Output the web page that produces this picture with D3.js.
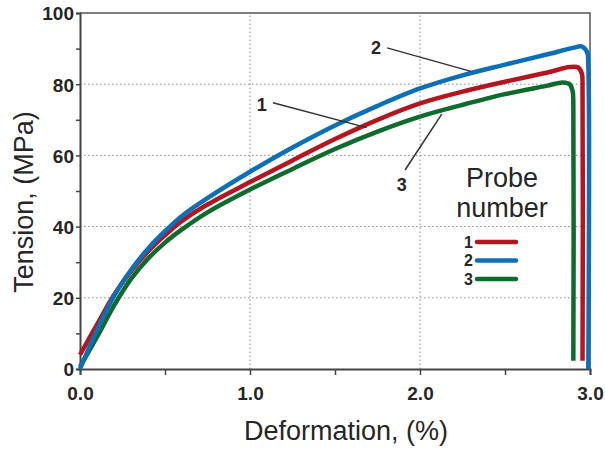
<!DOCTYPE html>
<html>
<head>
<meta charset="utf-8">
<script src="https://cdn.jsdelivr.net/npm/d3@7"></script>
<style>
  body { margin: 0; background: #fff; }
  text { font-family: "Liberation Sans", Arial, sans-serif; fill: #262626; }
</style>
</head>
<body>
<div id="chart"></div>
<script>
"use strict";

// values: [deformation %, tension MPa]
const probe1 = [[0, 4], [0.1, 12.5], [0.2, 20.8], [0.3, 27.5], [0.4, 33], [0.5, 37.6], [0.6, 41.6],
  [0.75, 46.2], [1.0, 52.5], [1.25, 58.6], [1.5, 64.6], [1.75, 70], [2.0, 74.6], [2.25, 77.9],
  [2.5, 80.7], [2.75, 83.3], [2.88, 84.8], [2.93, 84.7], [2.952, 83], [2.956, 79], [2.956, 2.3]];
const probe2 = [[0, 0], [0.1, 11], [0.2, 20.5], [0.3, 27.8], [0.4, 33.8], [0.5, 38.7], [0.6, 43],
  [0.75, 48], [1.0, 55.4], [1.25, 62.2], [1.5, 68.4], [1.75, 73.9], [2.0, 78.8], [2.25, 82.5],
  [2.5, 85.5], [2.75, 88.4], [2.9, 90.2], [2.95, 90.6], [2.983, 89], [2.99, 85], [2.99, 0]];
const probe3 = [[0, 0.6], [0.1, 9], [0.2, 17.8], [0.3, 25.3], [0.4, 31], [0.5, 35.5], [0.6, 39.2],
  [0.75, 44], [1.0, 50.4], [1.25, 56.2], [1.5, 61.8], [1.75, 66.7], [2.0, 70.9], [2.25, 74.2],
  [2.5, 77.2], [2.75, 79.6], [2.84, 80.5], [2.88, 80], [2.898, 78], [2.902, 74], [2.902, 2.3]];

const probeNames = ["1", "2", "3"];
const probeColours = ["#b3161f", "#0d6fb8", "#0e6b2b"];

const xTicks = [0, 1, 2, 3];
const xMinor = [0.5, 1.5, 2.5];
const yTicks = [0, 20, 40, 60, 80, 100];
const yMinor = [10, 30, 50, 70, 90];
const xGrid = [1, 2];
const yGrid = [20, 40, 60, 80];

// leader labels: label position, line start, line end (data coords)
const labels = [
  { name: "1", at: [1.069, 74.2], from: [1.135, 74.8], to: [1.686, 67.8] },
  { name: "2", at: [1.741, 90.4], from: [1.806, 90.2], to: [2.3, 83.6] },
  { name: "3", at: [1.892, 51.7], from: [1.912, 55.9], to: [2.128, 71.6] },
];

const W = 605, H = 450;
const margin = { top: 13, right: 15, bottom: 81, left: 80 };

const svg = d3.select("#chart").append("svg").attr("width", W).attr("height", H);

const x = d3.scaleLinear().domain([0, 3]).range([margin.left, W - margin.right]);
const y = d3.scaleLinear().domain([0, 100]).range([H - margin.bottom, margin.top]);

// grid
svg.append("g").selectAll("line").data(xGrid).join("line")
  .attr("x1", d => x(d)).attr("x2", d => x(d))
  .attr("y1", y(0)).attr("y2", y(100))
  .attr("stroke", "#8a8a8a").attr("stroke-width", 1).attr("stroke-dasharray", "1.5,2.5");
svg.append("g").selectAll("line").data(yGrid).join("line")
  .attr("x1", x(0)).attr("x2", x(3))
  .attr("y1", d => y(d)).attr("y2", d => y(d))
  .attr("stroke", "#8a8a8a").attr("stroke-width", 1).attr("stroke-dasharray", "1.5,2.5");

// frame top/right
svg.append("path")
  .attr("d", `M${x(0)},${y(100)}H${x(3)}V${y(0)}`)
  .attr("fill", "none").attr("stroke", "#555").attr("stroke-width", 1.5);

// axes
svg.append("g").attr("transform", `translate(0,${y(0)})`)
  .call(d3.axisBottom(x).tickValues(xTicks).tickSize(6).tickPadding(12).tickFormat(d3.format(".1f")));
svg.append("g").attr("transform", `translate(0,${y(0)})`)
  .call(d3.axisBottom(x).tickValues(xMinor).tickSize(6).tickFormat(""))
  .call(g => g.select(".domain").remove());
const yAxis = svg.append("g").attr("transform", `translate(${x(0)},0)`)
  .call(d3.axisLeft(y).tickValues(yTicks).tickSize(4).tickPadding(2));
svg.append("g").attr("transform", `translate(${x(0)},0)`)
  .call(d3.axisLeft(y).tickValues(yMinor).tickSize(4).tickFormat(""))
  .call(g => g.select(".domain").remove());

svg.selectAll(".domain").attr("stroke", "#444").attr("stroke-width", 2);
svg.selectAll(".tick line").attr("stroke", "#444").attr("stroke-width", 1.5);
svg.selectAll(".tick text")
  .style("font-size", "19px").style("font-weight", "bold")
  .style("font-family", "Liberation Sans, Arial, sans-serif")
  .attr("fill", "#333");
yAxis.selectAll(".tick text").attr("dy", "0.36em");

// curves
const line = d3.line().x(d => x(d[0])).y(d => y(d[1])).curve(d3.curveCatmullRom.alpha(0.5));
const series = [probe1, probe2, probe3];
const order = [2, 0, 1]; // green, red, then blue on top
order.forEach(i => {
  svg.append("path").datum(series[i])
    .attr("d", line)
    .attr("fill", "none")
    .attr("stroke", probeColours[i])
    .attr("stroke-width", 4.5)
    .attr("stroke-linejoin", "round");
});

// leader lines and labels
labels.forEach(l => {
  svg.append("line")
    .attr("x1", x(l.from[0])).attr("y1", y(l.from[1]))
    .attr("x2", x(l.to[0])).attr("y2", y(l.to[1]))
    .attr("stroke", "#333").attr("stroke-width", 1.5);
  svg.append("text")
    .attr("x", x(l.at[0])).attr("y", y(l.at[1]))
    .attr("text-anchor", "middle").attr("dy", "0.36em")
    .style("font-size", "18px").style("font-weight", "bold")
    .text(l.name);
});

// legend
const legend = svg.append("g");
legend.append("text").attr("x", 502).attr("y", 187).attr("text-anchor", "middle")
  .style("font-size", "27px").text("Probe");
legend.append("text").attr("x", 502).attr("y", 217).attr("text-anchor", "middle")
  .style("font-size", "27px").text("number");
probeNames.forEach((n, i) => {
  const ly = 242 + i * 18.5;
  legend.append("text").attr("x", 473).attr("y", ly).attr("dy", "0.36em")
    .attr("text-anchor", "end").style("font-size", "16px").style("font-weight", "bold").text(n);
  legend.append("line")
    .attr("x1", 477).attr("x2", 516).attr("y1", ly).attr("y2", ly)
    .attr("stroke", probeColours[i]).attr("stroke-width", 4.5).attr("stroke-linecap", "round");
});

// axis titles
svg.append("text")
  .attr("x", 346).attr("y", 440).attr("text-anchor", "middle")
  .style("font-size", "27px").text("Deformation, (%)");
svg.append("text")
  .attr("transform", `translate(33,202) rotate(-90)`)
  .attr("text-anchor", "middle")
  .style("font-size", "27px").text("Tension, (MPa)");
</script>
</body>
</html>
